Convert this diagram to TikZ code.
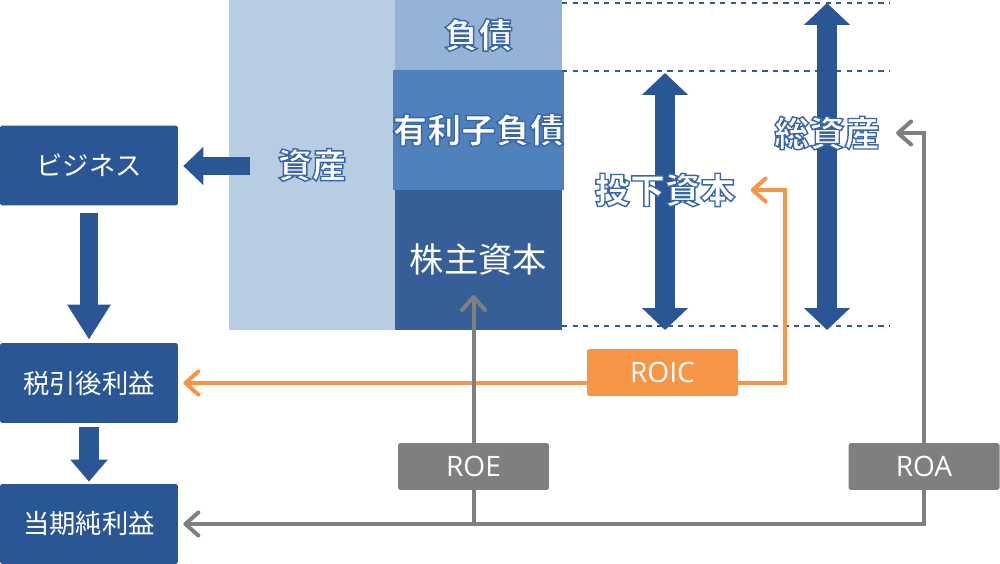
\documentclass[tikz,border=0pt]{standalone}
\usepackage{fontspec}
\setmainfont{Noto Sans CJK JP}
\newfontfamily\latinfont{Open Sans}
\usetikzlibrary{arrows.meta,positioning,calc}
\definecolor{bsblue}{HTML}{2A5696}
\definecolor{assetblue}{HTML}{B8CCE4}
\definecolor{debtblue}{HTML}{95B3D7}
\definecolor{ibdblue}{HTML}{4F81BD}
\definecolor{equityblue}{HTML}{355F96}
\definecolor{guideblue}{HTML}{2F5C96}
\definecolor{roicorange}{HTML}{F79646}
\definecolor{roagray}{HTML}{7F7F7F}
% white text with a blue outline
\newcommand{\glow}[1]{{\bfseries\special{pdf:literal direct 2 Tr 0.8 w 0.22 0.4 0.66 RG}#1\special{pdf:literal direct 0 Tr 0.4 w}}}

\begin{document}
\begin{tikzpicture}[
    x=0.02cm, y=-0.02cm,
    card/.style={rectangle, fill=bsblue, text=white, minimum width=3.56cm, minimum height=1.6cm, rounded corners=1pt, font=\fontsize{15}{18}\selectfont},
    stackbox/.style={rectangle, minimum width=3.34cm, text=white, inner sep=0pt, font=\fontsize{19.5}{23}\selectfont},
    ratiobox/.style={rectangle, text=white, minimum width=3.02cm, minimum height=0.94cm, rounded corners=1pt, font=\latinfont\fontsize{16}{18}\selectfont},
    tagtext/.style={text=white, inner sep=0pt, font=\fontsize{20}{24}\selectfont},
    blockarrow/.style={draw=bsblue, line width=0.38cm, -{Triangle[length=0.7cm,width=0.82cm]}},
    spanarrow/.style={draw=bsblue, line width=0.4cm, {Triangle[length=0.44cm,width=0.9cm]}-{Triangle[length=0.44cm,width=0.9cm]}},
    oarrow/.style={draw=roicorange, line width=0.08cm, -{Straight Barb[round,length=0.26cm,width=0.46cm]}},
    gline/.style={draw=roagray, line width=0.08cm},
    garrow/.style={gline, -{Straight Barb[round,length=0.26cm,width=0.46cm]}},
    guide/.style={dashed, draw=guideblue, line width=0.6pt},
]
    \useasboundingbox (0,0) rectangle (1000,564);

    % Left column
    \node[card] (biz) at (89,165.5) {ビジネス};
    \node[card] (tax) at (89,383) {税引後利益};
    \node[card] (net) at (89,524) {当期純利益};

    % Balance sheet
    \node[stackbox, fill=assetblue, minimum width=3.32cm, minimum height=6.6cm] (assets) at (312,165) {\glow{資産}};
    \node[stackbox, fill=debtblue, minimum height=1.4cm] (debt) at (478.5,35) {\glow{負債}};
    \node[stackbox, fill=ibdblue, minimum height=2.4cm] (ibd) at (478.5,130) {\glow{有利子負債}};
    \node[stackbox, fill=equityblue, minimum height=2.8cm] (equity) at (478.5,260) {株主資本};

    % Guides
    \draw[guide] (562,3) -- (890,3);
    \draw[guide] (562,71) -- (890,71);
    \draw[guide] (562,326) -- (890,326);

    % Block arrows
    \draw[blockarrow, line width=0.36cm, -{Triangle[length=0.4cm,width=0.74cm]}, shorten >=0.1cm] ($(assets.west)+(21,1)$) -- (biz.east |- 0,166);
    \draw[blockarrow, shorten <=0.14cm, shorten >=0.06cm] (biz.south) -- (tax.north);
    \draw[blockarrow, line width=0.4cm, -{Triangle[length=0.44cm,width=0.72cm]}, shorten <=0.08cm, shorten >=0.04cm] (tax.south) -- (net.north);

    % Capital spans
    \coordinate (ictop) at (665,73);
    \coordinate (icbot) at (665,330);
    \coordinate (tatop) at (827,3);
    \coordinate (tabot) at (827,330);
    \draw[spanarrow] (ictop) -- (icbot);
    \draw[spanarrow] (tatop) -- (tabot);
    \node[tagtext] (ic) at (665,190) {\glow{投下資本}};
    \node[tagtext] (ta) at (827,133) {\glow{総資産}};

    % Ratios
    \node[ratiobox, fill=roicorange] (roic) at (662.5,372.5) {ROIC};
    \node[ratiobox, fill=roagray] (roe) at (473.5,466.5) {ROE};
    \node[ratiobox, fill=roagray] (roa) at (924,466.5) {ROA};

    \draw[oarrow, shorten >=0.1cm] (roic.west |- tax.east) -- (tax.east);
    \draw[oarrow, shorten >=0.3cm] (roic.east |- tax.east) -- ++(47,0) |- (ic.east);
    \draw[garrow, shorten >=0.7cm] (roe.north) -- (roe.north |- equity.center);
    \draw[gline] (roe.south) -- (roe.south |- net.east);
    \draw[garrow, shorten >=0.32cm] (roa.north) |- (ta.east);
    \draw[garrow, shorten >=0.1cm] (roa.south) |- (net.east);
\end{tikzpicture}
\end{document}
